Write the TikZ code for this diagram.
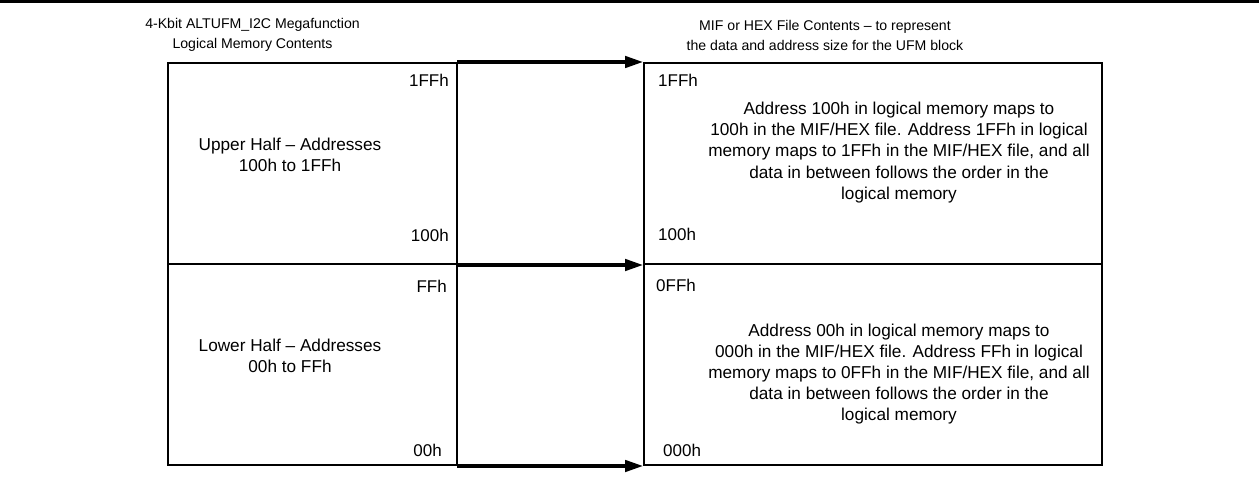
\documentclass[tikz,border=0pt]{standalone}
\usepackage{fontspec}
\setmainfont{Liberation Sans}
\usetikzlibrary{arrows.meta}
\begin{document}
\begin{tikzpicture}[x=1pt,y=-1pt,
  membox/.style={draw, line width=2pt, inner sep=0pt, minimum height=201pt},
  leftbox/.style={membox, minimum width=289pt},
  rightbox/.style={membox, minimum width=458pt},
  maparrow/.style={line width=3.2pt, -{Triangle[length=18pt,width=11.5pt]}, shorten <=-1pt},
  title/.style={inner sep=0pt, align=center, font=\fontsize{14.1}{20}\selectfont},
  body/.style={inner sep=0pt, align=center, font=\fontsize{17.2}{21.2}\selectfont},
  addr/.style={inner sep=0pt, font=\fontsize{17}{20}\selectfont},
]
\useasboundingbox (0,0) rectangle (1259,481);
\fill (0,0) rectangle (1259,2.7);

% boxes
\node[leftbox]  (lu) at (312.5,163.5) {};
\node[leftbox]  (ll) at (312.5,364.5) {};
\node[rightbox] (ru) at (873,163.5) {};
\node[rightbox] (rl) at (873,364.5) {};

% arrows
\draw[maparrow] (lu.north east) -- (ru.north west);
\draw[maparrow] (lu.south east) -- (ru.south west);
\draw[maparrow] (ll.south east) -- (rl.south west);

% titles
\node[title] (tl) at (252.5,35) {4-Kbit ALTUFM\_I2C Megafunction\\Logical Memory Contents};
\node[title] (tr) at (825,35) {MIF or HEX File Contents -- to represent\\the data and address size for the UFM block};

% left labels
\node[body] (uh) at (290,155) {Upper Half -- Addresses\\100h to 1FFh};
\node[body] (lh) at (290,355.5) {Lower Half -- Addresses\\00h to FFh};
\node[addr, anchor=east] (a1) at (449,80) {1FFh};
\node[addr, anchor=east] (a2) at (449,235) {100h};
\node[addr, anchor=east] (a3) at (447,286.5) {FFh};
\node[addr, anchor=east] (a4) at (442,450) {00h};

% right labels
\node[addr, anchor=west] (b1) at (658,80) {1FFh};
\node[addr, anchor=west] (b2) at (658,234) {100h};
\node[addr, anchor=west] (b3) at (656,285) {0FFh};
\node[addr, anchor=west] (b4) at (663,450) {000h};

\node[body] (pu) at (899,152.5) {Address 100h in logical memory maps to\\100h in the MIF/HEX file. Address 1FFh in logical\\memory maps to 1FFh in the MIF/HEX file, and all\\data in between follows the order in the\\logical memory};
\node[body] (pl) at (899,374) {Address 00h in logical memory maps to\\000h in the MIF/HEX file. Address FFh in logical\\memory maps to 0FFh in the MIF/HEX file, and all\\data in between follows the order in the\\logical memory};
\end{tikzpicture}
\end{document}
